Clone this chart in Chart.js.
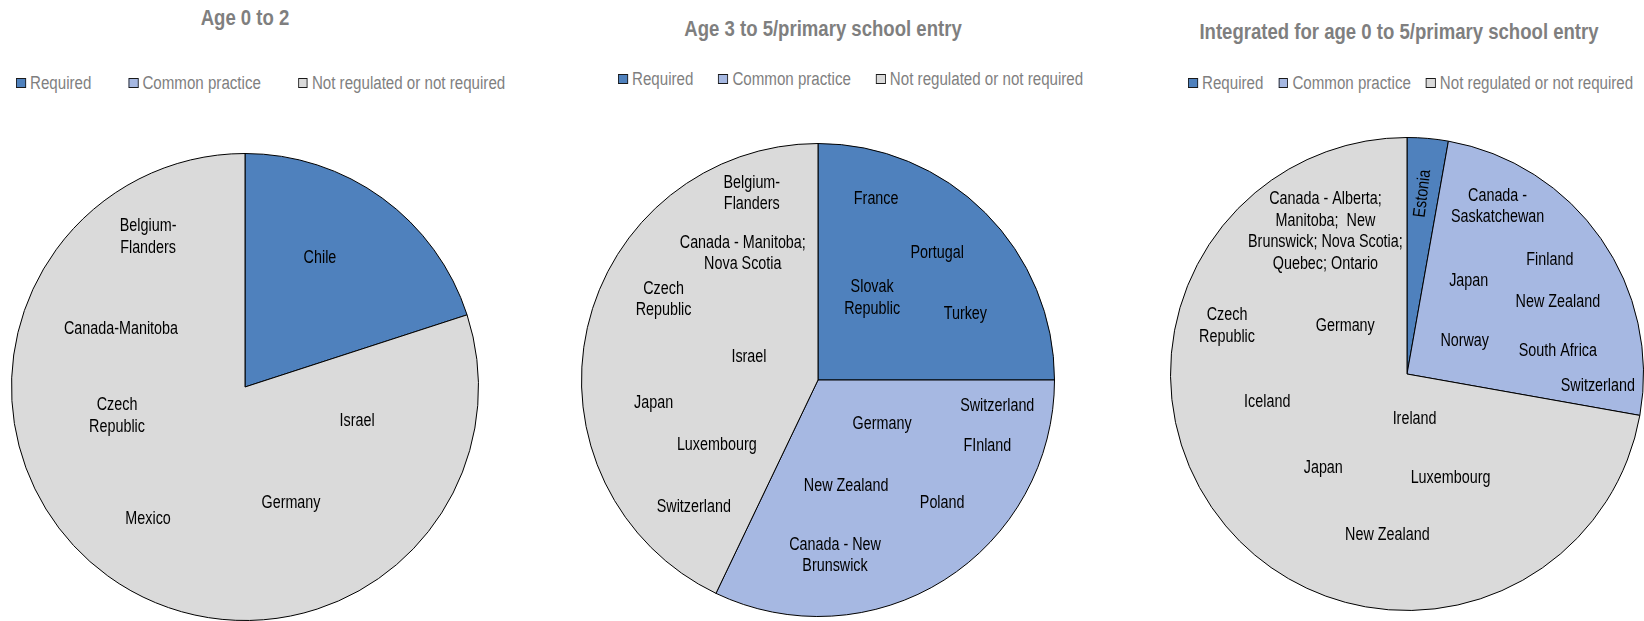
<!DOCTYPE html>
<html>
<head>
<meta charset="utf-8">
<script src="https://cdn.jsdelivr.net/npm/chart.js@4.4.1/dist/chart.umd.min.js"></script>
<style>
  body { margin: 0; width: 1644px; height: 621px; overflow: hidden; background: #fff; position: relative;
         font-family: "Liberation Sans", Arial, sans-serif; }
  canvas { position: absolute; }
  /* no narrow face installed, so squeeze the regular one */
  .title { position: absolute; width: 600px; text-align: center; font-weight: bold; font-size: 22.5px;
           color: #7f7f7f; line-height: 26px; white-space: nowrap; transform: scaleX(0.825); transform-origin: 50% 50%; }
  .legend { position: absolute; display: flex; align-items: center; font-size: 18px; color: #7f7f7f;
            line-height: 20px; white-space: nowrap; transform: scaleX(0.84); transform-origin: 0 50%; }
  .legend .item { display: flex; align-items: center; }
  .legend .box { width: 11.9px; height: 10px; box-sizing: border-box; border: 1px solid #1a1a1a;
                 border-left-width: 1.19px; border-right-width: 1.19px; margin-right: 4.8px; }
</style>
</head>
<body>

<div class="title" style="left:-55px; top:5px;">Age 0 to 2</div>
<div class="title" style="left:523px; top:16px;">Age 3 to 5/primary school entry</div>
<div class="title" style="left:1099px; top:19px;">Integrated for age 0 to 5/primary school entry</div>

<div class="legend" id="legend1" style="left:16px; top:73px;"></div>
<div class="legend" id="legend2" style="left:618px; top:69px;"></div>
<div class="legend" id="legend3" style="left:1188px; top:73px;"></div>

<canvas id="pie1" width="468" height="468" style="left:11px; top:153px;"></canvas>
<canvas id="pie2" width="474" height="474" style="left:581px; top:143px;"></canvas>
<canvas id="pie3" width="474" height="474" style="left:1170px; top:137px;"></canvas>

<script>
// categories and colours
const categories = ['Required', 'Common practice', 'Not regulated or not required'];
const colors = ['#4f81bd', '#a6b8e2', '#dadada'];

// share of the pie per category
const age0to2Shares = [20, 0, 80];
const age3to5Shares = [25, 32.1, 42.9];
const integratedShares = [2.8, 25, 72.2];

// country labels written inside the slices
const age0to2Labels = ['Chile', 'Belgium-\nFlanders', 'Canada-Manitoba', 'Czech\nRepublic', 'Mexico', 'Germany', 'Israel'];
const age3to5Labels = ['Belgium-\nFlanders', 'Canada - Manitoba;\nNova Scotia', 'Czech\nRepublic', 'Israel', 'Japan',
    'Luxembourg', 'Switzerland', 'France', 'Portugal', 'Slovak\nRepublic', 'Turkey', 'Germany', 'Switzerland',
    'FInland', 'New Zealand', 'Poland', 'Canada - New\nBrunswick'];
const integratedLabels = ['Estonia', 'Canada - Alberta;\nManitoba;  New\nBrunswick; Nova Scotia;\nQuebec; Ontario',
    'Czech\nRepublic', 'Germany', 'Iceland', 'Ireland', 'Japan', 'Luxembourg', 'New Zealand',
    'Canada -\nSaskatchewan', 'Finland', 'Japan', 'New Zealand', 'Norway', 'South Africa', 'Switzerland'];

// where the labels sit, as offsets from the pie centre in units of the radius
const age0to2LabelPos = [[0.321, -0.552], [-0.415, -0.642], [-0.531, -0.248], [-0.548, 0.124], [-0.415, 0.565],
    [0.197, 0.497], [0.480, 0.146]];
const age3to5LabelPos = [[-0.280, -0.788], [-0.318, -0.534], [-0.653, -0.339], [-0.292, -0.097], [-0.695, 0.097],
    [-0.428, 0.275], [-0.525, 0.538], [0.246, -0.763], [0.504, -0.538], [0.229, -0.347], [0.623, -0.280],
    [0.271, 0.186], [0.758, 0.110], [0.716, 0.280], [0.119, 0.449], [0.525, 0.521], [0.072, 0.742]];
const integratedLabelPos = [[0.066, -0.763], [-0.345, -0.602], [-0.761, -0.203], [-0.261, -0.203], [-0.591, 0.119],
    [0.032, 0.191], [-0.354, 0.398], [0.184, 0.441], [-0.083, 0.682], [0.383, -0.708], [0.604, -0.483],
    [0.261, -0.394], [0.638, -0.305], [0.244, -0.140], [0.638, -0.097], [0.807, 0.051]];

const labelFont = '17.5px "Liberation Sans", Arial, sans-serif';
const narrow = 0.82;
const lineHeight = 21.5;

// draws the country names on top of the slices
const countryLabels = {
    id: 'countryLabels',
    afterDatasetsDraw(chart, args, opts) {
        const arc = chart.getDatasetMeta(0).data[0];
        const ctx = chart.ctx;
        const r = arc.outerRadius;
        ctx.save();
        ctx.font = labelFont;
        ctx.fillStyle = '#000';
        ctx.textAlign = 'center';
        ctx.textBaseline = 'middle';
        opts.labels.forEach((text, i) => {
            const x = arc.x + opts.pos[i][0] * r;
            const y = arc.y + opts.pos[i][1] * r;
            const lines = text.split('\n');
            ctx.save();
            ctx.translate(x, y);
            if (opts.rotate && opts.rotate[i]) ctx.rotate(opts.rotate[i] * Math.PI / 180);
            ctx.scale(narrow, 1);
            lines.forEach((line, j) => {
                ctx.fillText(line, 0, (j - (lines.length - 1) / 2) * lineHeight);
            });
            ctx.restore();
        });
        ctx.restore();
    }
};

function makePie(canvasId, legendId, shares, labels, pos, rotate) {
    const chart = new Chart(document.getElementById(canvasId), {
        type: 'pie',
        data: {
            labels: categories,
            datasets: [{
                data: shares,
                backgroundColor: colors,
                borderColor: '#000',
                borderWidth: 1
            }]
        },
        options: {
            responsive: false,
            animation: false,
            layout: { padding: 0 },
            plugins: {
                legend: { display: false },
                title: { display: false },
                tooltip: { enabled: false },
                countryLabels: { labels: labels, pos: pos, rotate: rotate }
            }
        },
        plugins: [countryLabels]
    });

    // html legend built from the chart's own legend items
    const items = Chart.overrides.pie.plugins.legend.labels.generateLabels(chart);
    const legendDiv = document.getElementById(legendId);
    items.forEach(item => {
        const el = document.createElement('div');
        el.className = 'item';
        const box = document.createElement('span');
        box.className = 'box';
        box.style.background = item.fillStyle;
        el.appendChild(box);
        el.appendChild(document.createTextNode(item.text));
        legendDiv.appendChild(el);
    });
    return chart;
}

makePie('pie1', 'legend1', age0to2Shares, age0to2Labels, age0to2LabelPos);
makePie('pie2', 'legend2', age3to5Shares, age3to5Labels, age3to5LabelPos);
makePie('pie3', 'legend3', integratedShares, integratedLabels, integratedLabelPos, [-83]);

// gaps between legend entries differ per panel (divided by the squeeze factor)
const legendSqueeze = 0.84;
document.querySelectorAll('#legend1 .item').forEach((el, i) => { if (i > 0) el.style.marginLeft = (37 / legendSqueeze) + 'px'; });
document.querySelectorAll('#legend2 .item').forEach((el, i) => { if (i > 0) el.style.marginLeft = (25 / legendSqueeze) + 'px'; });
document.querySelectorAll('#legend3 .item').forEach((el, i) => { if (i > 0) el.style.marginLeft = (15 / legendSqueeze) + 'px'; });
</script>
</body>
</html>
